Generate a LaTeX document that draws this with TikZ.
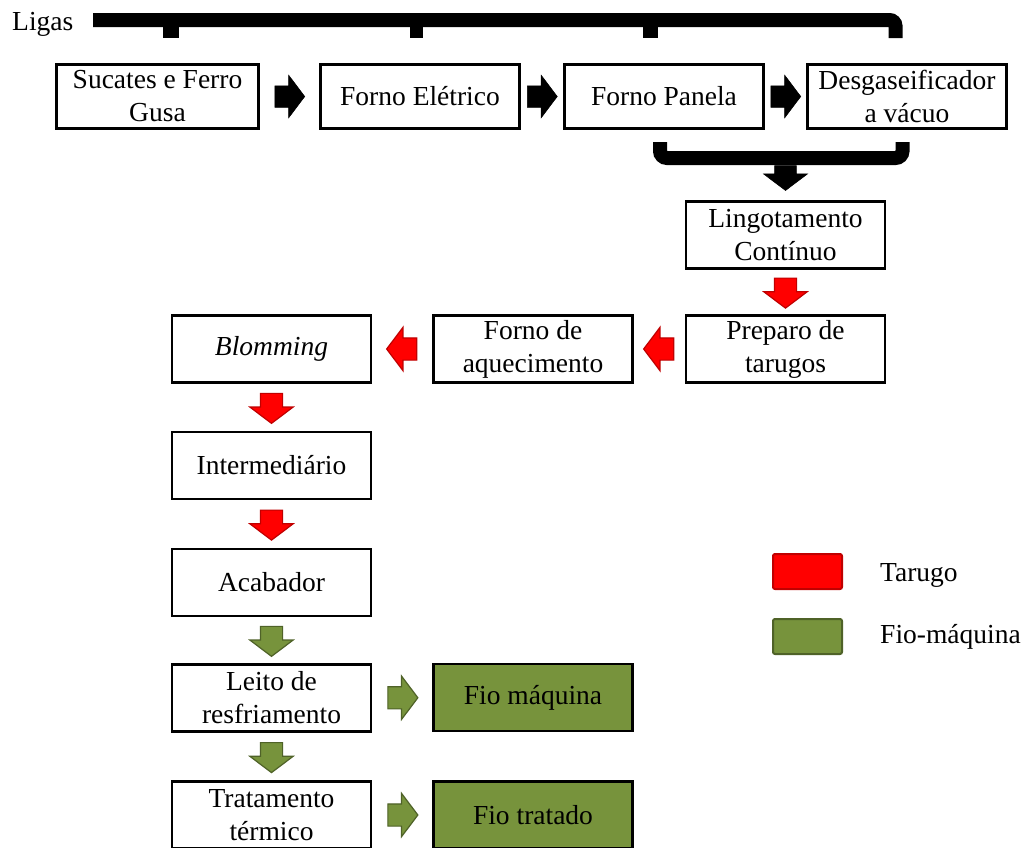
\documentclass[tikz,border=0pt]{standalone}
\usepackage{fontspec}
\setmainfont{Liberation Serif}
\usetikzlibrary{shapes.arrows,calc}
\definecolor{myred}{HTML}{FF0000}
\definecolor{myredb}{HTML}{C00000}
\definecolor{oliv}{HTML}{77933C}
\definecolor{olivb}{HTML}{4F6228}
\begin{document}
\begin{tikzpicture}[x=1pt,y=1pt,
  txt/.style={font=\fontsize{27.5}{33}\selectfont},
  box/.style={txt, draw, line width=2.5pt, minimum width=199pt, minimum height=67pt, inner sep=2pt, align=center},
  greenbox/.style={box, fill=oliv},
  arr/.style={single arrow, anchor=tail, inner xsep=0pt, inner ysep=10.5pt, minimum height=30pt, minimum width=42pt, single arrow head extend=10.5pt, single arrow tip angle=106, line width=1.2pt},
  blk/.style={arr, fill=black, draw=black, line width=0.5pt},
  redarr/.style={arr, fill=myred, draw=myredb},
  grnarr/.style={arr, fill=oliv, draw=olivb},
  bracket/.style={line width=14pt, line cap=butt}
]
\useasboundingbox (0,0) rectangle (1025,-847);
\clip (0,0) rectangle (1025,-847);
\fill[white] (0,0) rectangle (1025,-847);

% top row
\node[box, minimum width=202pt, minimum height=64pt] (suc) at (157.5,-96.5) {Sucates e Ferro\\Gusa};
\node[box, minimum height=64pt] (ele) at (420,-96.5) {Forno Elétrico};
\node[box, minimum height=64pt] (pan) at (664,-96.5) {Forno Panela};
\node[box, minimum height=64pt] (des) at (907,-96.5) {Desgaseificador\\a vácuo};

\node[txt, inner sep=0pt, anchor=base west] (lig) at (12,-30) {Ligas};

% top bracket
\draw[bracket, rounded corners=6pt] (93,-20) -- (895.5,-20) -- (895.5,-38);
\fill (163,-26) rectangle (179,-38);
\fill (410,-26) rectangle (423,-38);
\fill (643,-26) rectangle (658,-38);

% lower bracket
\draw[bracket, rounded corners=7pt] (660,-142) -- (660,-158) -- (902.5,-158) -- (902.5,-142);

% column right
\node[box] (lin) at (785.5,-235) {Lingotamento\\Contínuo};
\node[box] (pre) at (785.5,-349) {Preparo de\\tarugos};
\node[box] (faq) at (533,-349) {Forno de\\aquecimento};
\node[box] (blo) at (271.5,-349) {\textit{Blomming}};
\node[box] (int) at (271.5,-465.5) {Intermediário};
\node[box] (aca) at (271.5,-582.5) {Acabador};
\node[box] (lei) at (271.5,-698) {Leito de\\resfriamento};
\node[box] (tra) at (271.5,-815) {Tratamento\\térmico};
\node[greenbox] (fm) at (533,-697.5) {Fio máquina};
\node[greenbox] (ft) at (533,-815) {Fio tratado};

% black arrows
\node[blk] (a1) at ($(suc.east)!.5!(ele.west)+(-15,0)$) {};
\node[blk] (a2) at ($(ele.east)!.5!(pan.west)+(-15,0)$) {};
\node[blk] (a3) at ($(pan.east)!.5!(des.west)+(-15,0)$) {};
\node[blk, rotate=-90, minimum height=25pt, minimum width=44pt, single arrow head extend=11pt] (a4) at ($(lin.north)+(0,35)$) {};

% red arrows
\node[redarr, rotate=-90] (r1) at ($(lin.south)!.5!(pre.north)+(0,14.5)$) {};
\node[redarr, rotate=180] (r2) at ($(pre.west)!.5!(faq.east)+(15,0)$) {};
\node[redarr, rotate=180] (r3) at ($(faq.west)!.5!(blo.east)+(15,0)$) {};
\node[redarr, rotate=-90] (r4) at ($(blo.south)!.5!(int.north)+(0,14.5)$) {};
\node[redarr, rotate=-90] (r5) at ($(int.south)!.5!(aca.north)+(0,14.5)$) {};

% green arrows
\node[grnarr, rotate=-90] (g1) at ($(aca.south)!.5!(lei.north)+(0,14.5)$) {};
\node[grnarr, rotate=-90] (g2) at ($(lei.south)!.5!(tra.north)+(0,14.5)$) {};
\node[grnarr] (g3) at ($(lei.east)!.5!(fm.west)+(-15,0)$) {};
\node[grnarr] (g4) at ($(tra.east)!.5!(ft.west)+(-15,0)$) {};

% legend
\node[draw=myredb, fill=myred, line width=2pt, rounded corners=2pt, minimum width=69pt, minimum height=35pt, inner sep=0pt] (lr) at (807.5,-571.5) {};
\node[draw=olivb, fill=oliv, line width=2pt, rounded corners=2pt, minimum width=69pt, minimum height=35pt, inner sep=0pt] (lg) at (807.5,-636.5) {};
\node[txt, inner sep=0pt, anchor=base west] (lt) at (880,-581) {Tarugo};
\node[txt, inner sep=0pt, anchor=base west] (lf) at (880,-643) {Fio-máquina};
\end{tikzpicture}
\end{document}
